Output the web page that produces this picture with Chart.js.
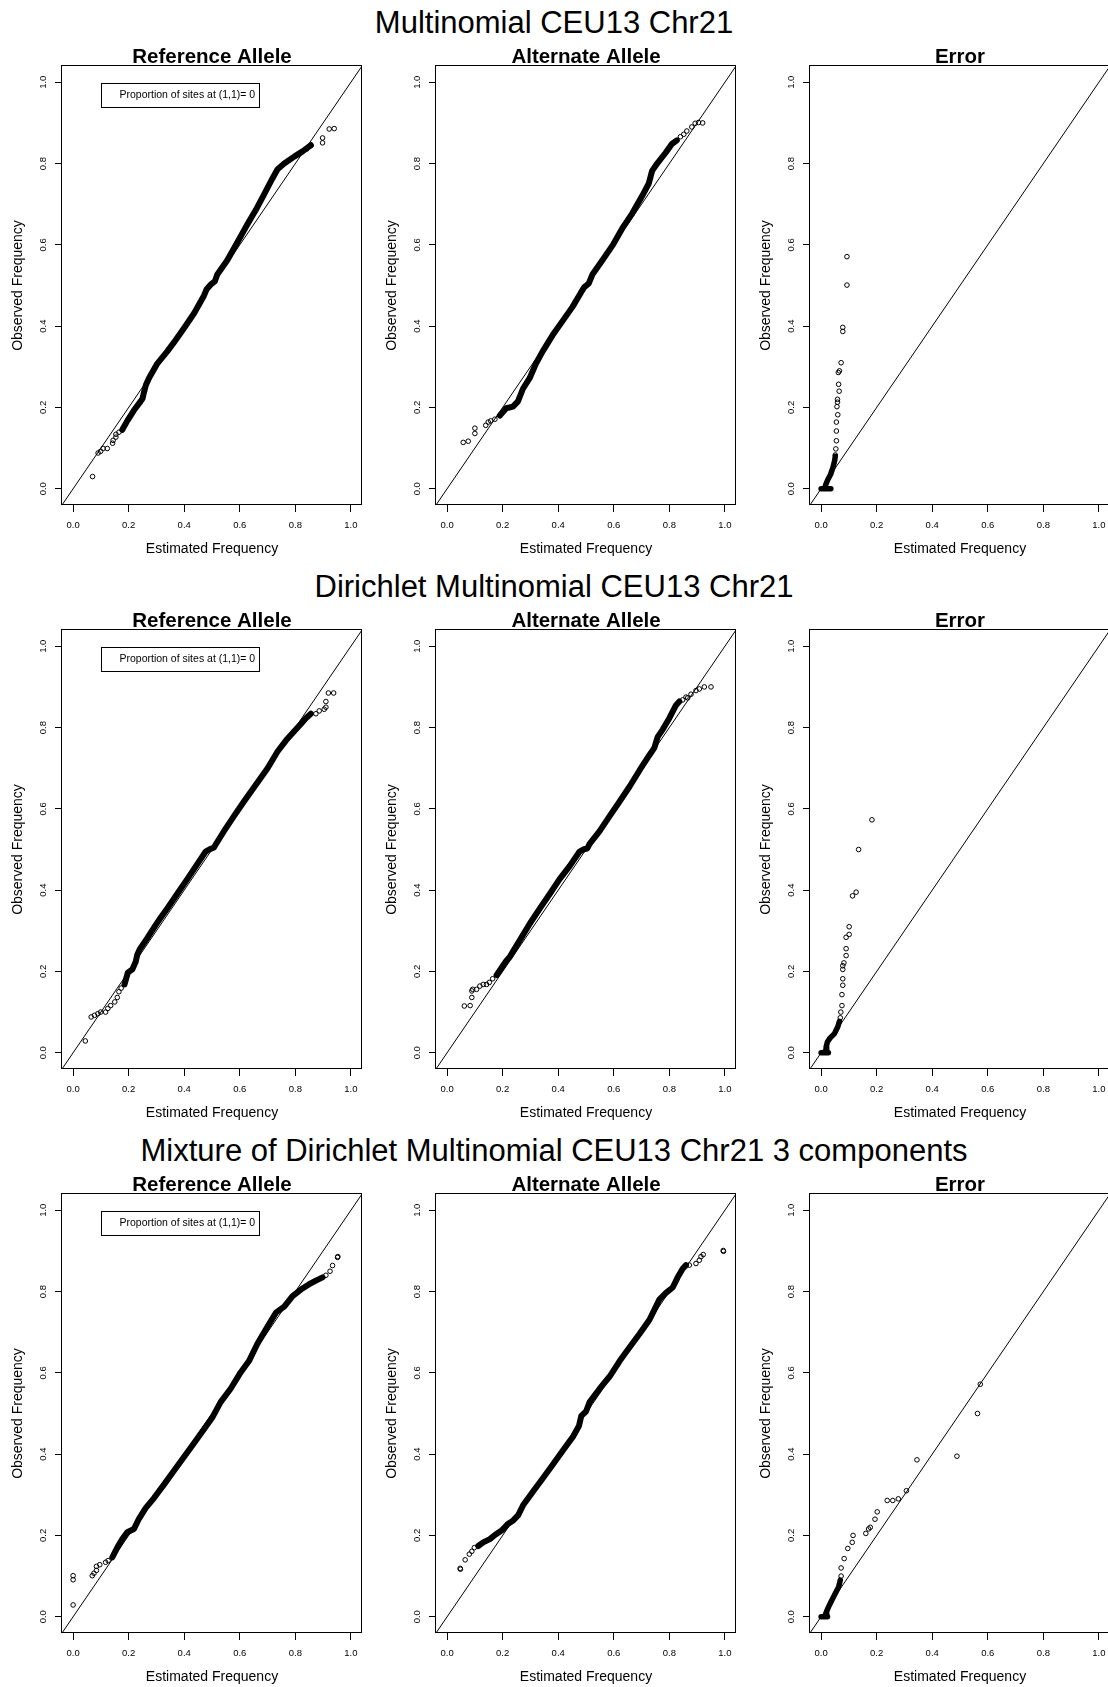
<!DOCTYPE html>
<html>
<head>
<meta charset="utf-8">
<script src="https://cdn.jsdelivr.net/npm/chart.js@4.4.1/dist/chart.umd.min.js"></script>
<style>
html,body{margin:0;padding:0;background:#fff;}
body{width:1108px;height:1687px;position:relative;overflow:hidden;font-family:"Liberation Sans",Arial,Helvetica,sans-serif;}
.main{position:absolute;left:0;width:1108px;text-align:center;font-size:31px;line-height:31px;color:#000;white-space:nowrap;}
canvas{position:absolute;}
</style>
</head>
<body>
<script>
// ---------- text ----------
const rowTitles = [
  "Multinomial CEU13 Chr21",
  "Dirichlet Multinomial CEU13 Chr21",
  "Mixture of Dirichlet Multinomial CEU13 Chr21 3 components"
];
const panelTitles = ["Reference Allele", "Alternate Allele", "Error"];
const xAxisTitle = "Estimated Frequency";
const yAxisTitle = "Observed Frequency";
const legendText = "Proportion of sites at (1,1)= 0";
const legendAnchor = [0.1, 1.0];
const tickValues = [0, 0.2, 0.4, 0.6, 0.8, 1.0];
const tickLabels = ["0.0", "0.2", "0.4", "0.6", "0.8", "1.0"];
const diagonal = [[-0.04, -0.04], [1.04, 1.04]];

// ---------- Multinomial ----------
const mRefBand = [[0.177,0.145],[0.195,0.167],[0.219,0.193],[0.243,0.215],[0.25,0.222],[0.255,0.237],[0.262,0.255],[0.273,0.272],[0.303,0.308],[0.339,0.338],[0.363,0.36],[0.399,0.395],[0.435,0.431],[0.471,0.475],[0.48,0.49],[0.495,0.502],[0.51,0.51],[0.519,0.527],[0.555,0.562],[0.591,0.606],[0.627,0.65],[0.657,0.685],[0.688,0.725],[0.718,0.764],[0.736,0.786],[0.76,0.80],[0.796,0.817],[0.826,0.83],[0.844,0.839],[0.856,0.845]];
const mRefPts = [[0.07,0.03],[0.09,0.088],[0.099,0.092],[0.108,0.099],[0.123,0.099],[0.142,0.112],[0.144,0.119],[0.154,0.127],[0.154,0.134],[0.165,0.139],[0.841,0.836],[0.856,0.845],[0.898,0.863],[0.898,0.851],[0.922,0.885],[0.94,0.886]];
const mAltBand = [[0.19,0.18],[0.213,0.198],[0.237,0.202],[0.255,0.215],[0.273,0.246],[0.297,0.272],[0.32,0.308],[0.344,0.338],[0.38,0.378],[0.416,0.413],[0.452,0.448],[0.482,0.483],[0.494,0.496],[0.51,0.505],[0.523,0.527],[0.559,0.562],[0.595,0.598],[0.631,0.641],[0.666,0.677],[0.702,0.72],[0.726,0.751],[0.738,0.782],[0.756,0.80],[0.786,0.826],[0.809,0.848],[0.827,0.857]];
const mAltPts = [[0.058,0.114],[0.076,0.117],[0.1,0.136],[0.1,0.149],[0.139,0.156],[0.148,0.164],[0.157,0.167],[0.172,0.171],[0.84,0.866],[0.852,0.872],[0.863,0.88],[0.881,0.89],[0.893,0.899],[0.905,0.901],[0.92,0.9]];
const mErrBand = [[0.051,0.08],[0.049,0.07],[0.043,0.053],[0.034,0.035],[0.024,0.022],[0.016,0.009]];
const mErrFloor = [[0.0,0.0],[0.035,0.0]];
const mErrPts = [[0.093,0.571],[0.093,0.501],[0.078,0.397],[0.078,0.387],[0.072,0.31],[0.066,0.29],[0.062,0.286],[0.063,0.257],[0.065,0.24],[0.059,0.22],[0.059,0.213],[0.057,0.202],[0.06,0.182],[0.055,0.164],[0.055,0.142],[0.055,0.118],[0.053,0.098],[0.051,0.083]];

// ---------- Dirichlet Multinomial ----------
const dRefBand = [[0.185,0.168],[0.197,0.197],[0.213,0.205],[0.225,0.223],[0.231,0.241],[0.24,0.255],[0.267,0.282],[0.297,0.314],[0.315,0.332],[0.339,0.355],[0.375,0.391],[0.411,0.427],[0.447,0.464],[0.477,0.495],[0.49,0.5],[0.507,0.505],[0.515,0.514],[0.543,0.545],[0.579,0.582],[0.615,0.618],[0.663,0.664],[0.7,0.7],[0.736,0.741],[0.766,0.768],[0.796,0.791],[0.82,0.809],[0.838,0.823],[0.856,0.834]];
const dRefPts = [[0.044,0.029],[0.065,0.088],[0.077,0.092],[0.089,0.096],[0.099,0.1],[0.117,0.1],[0.125,0.109],[0.135,0.116],[0.15,0.125],[0.159,0.136],[0.165,0.15],[0.173,0.159],[0.874,0.834],[0.886,0.841],[0.904,0.845],[0.91,0.85],[0.91,0.864],[0.919,0.885],[0.938,0.885]];
const dAltBand = [[0.178,0.191],[0.196,0.209],[0.214,0.227],[0.226,0.236],[0.238,0.25],[0.262,0.277],[0.298,0.318],[0.334,0.355],[0.37,0.391],[0.405,0.427],[0.441,0.459],[0.477,0.495],[0.49,0.5],[0.505,0.503],[0.513,0.514],[0.549,0.545],[0.585,0.582],[0.621,0.618],[0.657,0.655],[0.693,0.695],[0.728,0.732],[0.746,0.75],[0.758,0.777],[0.776,0.795],[0.8,0.823],[0.824,0.855],[0.836,0.864]];
const dAltPts = [[0.062,0.115],[0.083,0.116],[0.089,0.136],[0.089,0.152],[0.092,0.156],[0.106,0.156],[0.118,0.164],[0.13,0.168],[0.142,0.168],[0.152,0.173],[0.164,0.182],[0.848,0.868],[0.86,0.875],[0.866,0.873],[0.878,0.882],[0.896,0.891],[0.908,0.895],[0.926,0.9],[0.95,0.9]];
const dErrBand = [[0.066,0.077],[0.06,0.064],[0.048,0.047],[0.032,0.036],[0.023,0.027],[0.018,0.014],[0.02,0.004]];
const dErrFloor = [[0.0,0.0],[0.026,0.0]];
const dErrPts = [[0.183,0.573],[0.135,0.5],[0.126,0.395],[0.113,0.386],[0.101,0.31],[0.101,0.291],[0.09,0.284],[0.09,0.256],[0.09,0.239],[0.082,0.221],[0.078,0.214],[0.078,0.205],[0.078,0.182],[0.078,0.166],[0.075,0.143],[0.075,0.116],[0.071,0.1],[0.069,0.086]];

// ---------- Mixture of Dirichlet Multinomial ----------
const xRefBand = [[0.141,0.146],[0.159,0.17],[0.177,0.191],[0.195,0.208],[0.219,0.216],[0.237,0.241],[0.261,0.267],[0.291,0.292],[0.327,0.325],[0.363,0.359],[0.399,0.393],[0.435,0.427],[0.471,0.461],[0.501,0.49],[0.531,0.528],[0.567,0.561],[0.603,0.601],[0.633,0.629],[0.663,0.671],[0.7,0.714],[0.73,0.748],[0.76,0.763],[0.79,0.789],[0.82,0.805],[0.85,0.818],[0.874,0.827],[0.898,0.835]];
const xRefPts = [[0.0,0.029],[0.0,0.091],[0.0,0.101],[0.069,0.101],[0.075,0.107],[0.084,0.114],[0.084,0.124],[0.096,0.128],[0.117,0.134],[0.126,0.138],[0.91,0.84],[0.925,0.85],[0.934,0.864],[0.952,0.884],[0.953,0.886]];
const xAltBand = [[0.112,0.174],[0.13,0.183],[0.154,0.191],[0.172,0.201],[0.196,0.212],[0.22,0.229],[0.238,0.237],[0.256,0.25],[0.274,0.275],[0.31,0.309],[0.346,0.342],[0.382,0.376],[0.418,0.41],[0.453,0.443],[0.475,0.47],[0.483,0.494],[0.5,0.505],[0.513,0.528],[0.549,0.561],[0.585,0.591],[0.621,0.629],[0.657,0.663],[0.693,0.696],[0.728,0.73],[0.746,0.755],[0.764,0.78],[0.788,0.797],[0.812,0.81],[0.83,0.835],[0.848,0.856],[0.86,0.865]];
const xAltPts = [[0.047,0.119],[0.048,0.117],[0.065,0.14],[0.08,0.154],[0.089,0.161],[0.098,0.17],[0.872,0.865],[0.896,0.869],[0.908,0.877],[0.914,0.886],[0.922,0.891],[0.994,0.901],[0.995,0.899]];
const xErrBand = [[0.069,0.09],[0.063,0.073],[0.05,0.056],[0.038,0.04],[0.026,0.023],[0.018,0.01],[0.02,0.003]];
const xErrFloor = [[0.0,0.0],[0.023,0.0]];
const xErrPts = [[0.573,0.572],[0.563,0.5],[0.489,0.395],[0.345,0.386],[0.307,0.31],[0.278,0.29],[0.258,0.286],[0.238,0.286],[0.202,0.258],[0.194,0.24],[0.177,0.22],[0.171,0.216],[0.161,0.205],[0.115,0.2],[0.112,0.183],[0.096,0.168],[0.083,0.143],[0.072,0.12],[0.072,0.1]];

// ---------- panel table built from the arrays ----------
const panels = [
  [{bands:[mRefBand], pts:mRefPts, legend:true}, {bands:[mAltBand], pts:mAltPts}, {bands:[mErrBand, mErrFloor], pts:mErrPts, err:true}],
  [{bands:[dRefBand], pts:dRefPts, legend:true}, {bands:[dAltBand], pts:dAltPts}, {bands:[dErrBand, dErrFloor], pts:dErrPts, err:true}],
  [{bands:[xRefBand], pts:xRefPts, legend:true}, {bands:[xAltBand], pts:xAltPts}, {bands:[xErrBand, xErrFloor], pts:xErrPts, err:true}]
];

// ---------- layout ----------
const FONT = '"Liberation Sans", Arial, Helvetica, sans-serif';
const colLeft = [0, 374, 748];
const rowTop = [0, 564, 1128];
const PW = 374, PH = 564;
const titleTops = [7, 571, 1135];

Chart.defaults.font.family = FONT;
Chart.defaults.color = '#000';

const boxPlugin = {
  id: 'rbox',
  afterDraw(chart) {
    const a = chart.chartArea, ctx = chart.ctx;
    ctx.save();
    ctx.strokeStyle = '#000';
    ctx.lineWidth = 1;
    ctx.strokeRect(a.left - 0.5, a.top - 0.5, a.right - a.left, a.bottom - a.top);
    ctx.restore();
  }
};

const legendPlugin = {
  id: 'rlegend',
  afterDraw(chart, args, opts) {
    if (!opts || !opts.show) return;
    const ctx = chart.ctx;
    const bx = Math.round(chart.scales.x.getPixelForValue(legendAnchor[0]));
    const by = Math.round(chart.scales.y.getPixelForValue(legendAnchor[1]));
    ctx.save();
    ctx.font = '10.5px ' + FONT;
    const tw = ctx.measureText(legendText).width;
    const w = Math.round(18.5 + tw + 3.5), h = 24;
    ctx.strokeStyle = '#000';
    ctx.lineWidth = 1;
    ctx.strokeRect(bx + 0.5, by + 1.5, w, h);
    ctx.fillStyle = '#000';
    ctx.textBaseline = 'middle';
    ctx.textAlign = 'left';
    ctx.fillText(legendText, bx + 18.5, by + h / 2 + 1.5);
    ctx.restore();
  }
};

const toXY = arr => arr.map(p => ({x: p[0], y: p[1]}));

function tickCallback(value) {
  const i = tickValues.findIndex(v => Math.abs(v - value) < 1e-9);
  return i >= 0 ? tickLabels[i] : '';
}

rowTitles.forEach((t, r) => {
  const d = document.createElement('div');
  d.className = 'main';
  d.style.top = titleTops[r] + 'px';
  d.textContent = t;
  document.body.appendChild(d);
});

panels.forEach((row, r) => {
  row.forEach((p, c) => {
    const cv = document.createElement('canvas');
    cv.width = PW; cv.height = PH;
    cv.style.left = colLeft[c] + 'px';
    cv.style.top = rowTop[r] + 'px';
    cv.style.width = PW + 'px'; cv.style.height = PH + 'px';
    document.body.appendChild(cv);

    const datasets = [];
    datasets.push({
      data: toXY(diagonal), showLine: true, borderColor: '#000', borderWidth: 1,
      pointRadius: 0, tension: 0
    });
    p.bands.forEach(b => datasets.push({
      data: toXY(b), showLine: true, borderColor: '#000',
      borderWidth: p.err ? 5.5 : 6, borderJoinStyle: 'round', borderCapStyle: 'round',
      pointRadius: 0, tension: 0
    }));
    datasets.push({
      data: toXY(p.pts), showLine: false, pointRadius: 2.3, pointBorderWidth: 1,
      pointBorderColor: '#000', pointBackgroundColor: 'rgba(0,0,0,0)', pointStyle: 'circle'
    });

    new Chart(cv, {
      type: 'scatter',
      data: {datasets},
      plugins: [boxPlugin, legendPlugin],
      options: {
        responsive: false,
        animation: false,
        devicePixelRatio: 1,
        events: [],
        layout: {padding: {left: 0, right: 12, top: 0, bottom: 0}},
        plugins: {
          legend: {display: false},
          tooltip: {enabled: false},
          rlegend: {show: !!p.legend},
          title: {
            display: true, text: panelTitles[c], color: '#000', fullSize: false,
            font: {family: FONT, size: 20.5, weight: 'bold', lineHeight: '17px'},
            padding: {top: 49, bottom: 0}
          }
        },
        scales: {
          x: {
            type: 'linear', position: 'bottom', min: -0.04, max: 1.04,
            afterBuildTicks: s => { s.ticks = tickValues.map(v => ({value: v})); },
            afterFit: s => { s.height = 59; },
            border: {display: false},
            grid: {display: true, drawOnChartArea: false, drawTicks: true, tickLength: 7, color: '#000', lineWidth: 1},
            ticks: {autoSkip: false, maxRotation: 0, minRotation: 0, padding: 9, color: '#000',
                    font: {family: FONT, size: 9.5, lineHeight: 1}, callback: tickCallback},
            title: {display: true, text: xAxisTitle, color: '#000',
                    font: {family: FONT, size: 14, lineHeight: 1}, padding: {top: 0, bottom: 7.5}}
          },
          y: {
            type: 'linear', position: 'left', min: -0.04, max: 1.04,
            afterBuildTicks: s => { s.ticks = tickValues.map(v => ({value: v})); },
            afterFit: s => { s.width = 62; },
            border: {display: false},
            grid: {display: true, drawOnChartArea: false, drawTicks: true, tickLength: 7, color: '#000', lineWidth: 1},
            ticks: {autoSkip: false, minRotation: 90, maxRotation: 90, crossAlign: 'center', padding: 5, color: '#000',
                    font: {family: FONT, size: 9.5, lineHeight: 1}, callback: tickCallback},
            title: {display: true, text: yAxisTitle, color: '#000',
                    font: {family: FONT, size: 14, lineHeight: 1}, padding: {top: 11, bottom: 0}}
          }
        }
      }
    });
  });
});
</script>
</body>
</html>
